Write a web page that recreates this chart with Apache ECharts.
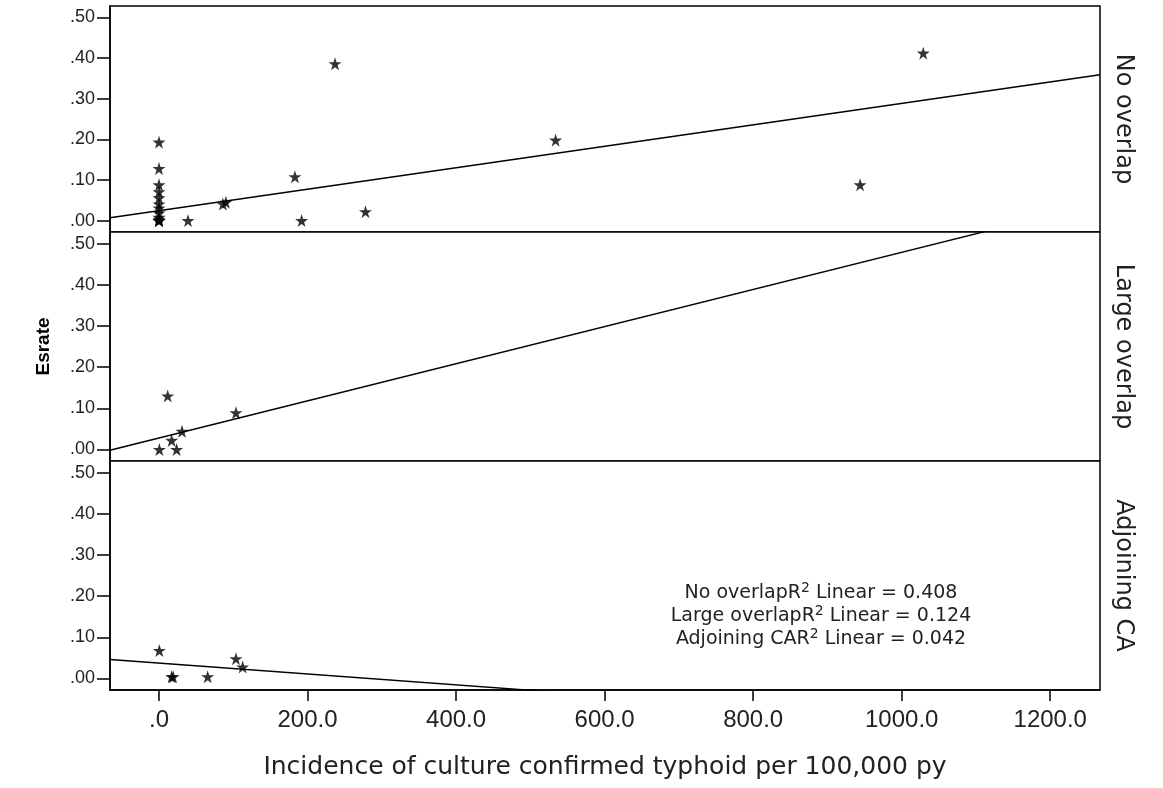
<!DOCTYPE html>
<html>
<head>
<meta charset="utf-8">
<script src="https://cdn.jsdelivr.net/npm/echarts@6/dist/echarts.min.js"></script>
<style>
  html, body { margin: 0; padding: 0; background: #fff; }
  #chart { width: 1163px; height: 788px; }
</style>
</head>
<body>
<div id="chart"></div>
<script>
// Panel names (drawn as strip labels on the right)
const panelNames = ['No overlap', 'Large overlap', 'Adjoining CA'];

// Scatter values per panel: incidence (x) and Esrate (y)
const noOverlapX = [0, 0, 0, 0, 0, 0, 0, 0, 0, 0, 0, 0, 0, 39, 86, 90, 183, 192, 237, 278, 534, 944, 1029];
const noOverlapY = [0.193, 0.128, 0.088, 0.071, 0.056, 0.041, 0.031, 0.019, 0.008, 0.003, 0, 0, 0, 0, 0.041, 0.045, 0.108, 0, 0.386, 0.022, 0.198, 0.088, 0.412];

const largeOverlapX = [0.5, 11.7, 17, 23.7, 31, 103.6];
const largeOverlapY = [0, 0.13, 0.022, 0, 0.044, 0.089];

const adjoiningX = [0.4, 17, 19, 65.5, 103.6, 112.6];
const adjoiningY = [0.068, 0.004, 0.004, 0.004, 0.048, 0.028];

// Linear fit lines (endpoints across the x range)
const noOverlapFit = [[-66, 0.007], [1267, 0.359]];
const largeOverlapFit = [[-66, -0.002], [1267, 0.599]];
const adjoiningFit = [[-66, 0.046], [1267, -0.13]];

// R² annotations
const fitLabels = ['No overlap', 'Large overlap', 'Adjoining CA'];
const fitR2 = ['0.408', '0.124', '0.042'];

// Axis ticks
const xTicks = [0, 200, 400, 600, 800, 1000, 1200];
const yTicks = [0, 0.1, 0.2, 0.3, 0.4, 0.5];
const xRange = [-66, 1267];
const yRange = [-0.028, 0.528];

const xFmt = v => (v === 0 ? '.0' : v.toFixed(1));
const yFmt = v => v.toFixed(2).replace(/^0/, '');

const FONT = 'Liberation Sans, Arial, sans-serif';
const WIDE = 'DejaVu Sans, Verdana, sans-serif';
const STAR = 'path://M50,0 L61.2,34.5 L97.6,34.5 L68.2,55.9 L79.4,90.5 L50,69.1 L20.6,90.5 L31.8,55.9 L2.4,34.5 L38.8,34.5 Z';

const panels = [
  { x: noOverlapX, y: noOverlapY, fit: noOverlapFit, top: 6, height: 226 },
  { x: largeOverlapX, y: largeOverlapY, fit: largeOverlapFit, top: 232, height: 229 },
  { x: adjoiningX, y: adjoiningY, fit: adjoiningFit, top: 461, height: 229 }
];

const grids = [], xAxes = [], yAxes = [], series = [];
panels.forEach((p, i) => {
  const last = i === panels.length - 1;
  grids.push({
    left: 110, right: 63, top: p.top, height: p.height,
    show: true, borderColor: '#000', borderWidth: 1.5, backgroundColor: '#fff'
  });
  xAxes.push({
    type: 'value', gridIndex: i, min: xRange[0], max: xRange[1],
    splitLine: { show: false },
    axisLine: { show: last, onZero: false, lineStyle: { color: '#000', width: 1.5 } },
    axisTick: { show: last, customValues: xTicks, length: 11, lineStyle: { color: '#000', width: 1.5 } },
    axisLabel: { show: last, customValues: xTicks, formatter: xFmt, color: '#222', fontFamily: FONT, fontSize: 24, margin: 18 },
    name: last ? 'Incidence of culture confirmed typhoid per 100,000 py' : '',
    nameLocation: 'middle', nameGap: 65,
    nameTextStyle: { color: '#222', fontFamily: WIDE, fontSize: 25 }
  });
  yAxes.push({
    type: 'value', gridIndex: i, min: yRange[0], max: yRange[1],
    splitLine: { show: false },
    axisLine: { show: true, onZero: false, lineStyle: { color: '#000', width: 1.5 } },
    axisTick: { show: true, customValues: yTicks, length: 13, lineStyle: { color: '#000', width: 1.5 } },
    axisLabel: { customValues: yTicks, formatter: yFmt, color: '#222', fontFamily: FONT, fontSize: 18, margin: 15 },
    name: i === 1 ? 'Esrate' : '',
    nameLocation: 'middle', nameGap: 57, nameRotate: 90,
    nameTextStyle: { color: '#000', fontFamily: FONT, fontSize: 19, fontWeight: 'bold' }
  });
  series.push({
    type: 'line', xAxisIndex: i, yAxisIndex: i,
    data: p.fit, symbol: 'none', clip: true, silent: true,
    lineStyle: { color: '#000', width: 1.4 }
  });
  series.push({
    type: 'scatter', xAxisIndex: i, yAxisIndex: i,
    data: p.x.map((v, k) => [v, p.y[k]]),
    symbol: STAR, symbolSize: 13, clip: false,
    itemStyle: { color: '#000' }
  });
});

// Strip labels to the right of each panel, reading top to bottom
const stripLabels = panels.map((p, i) => ({
  type: 'text',
  x: 1123, y: p.top + p.height / 2,
  rotation: -Math.PI / 2,
  style: {
    text: panelNames[i], fill: '#222', font: '24px ' + WIDE,
    align: 'center', verticalAlign: 'middle'
  }
}));

// R² annotation block inside the bottom panel
const r2Lines = fitLabels.map((name, i) => ({
  type: 'text',
  x: 821, y: 592 + i * 23,
  style: {
    text: '{a|' + name + 'R}{s|2}{a| Linear = ' + fitR2[i] + '}',
    align: 'center', verticalAlign: 'middle',
    rich: {
      a: { fontFamily: WIDE, fontSize: 19, fill: '#222', lineHeight: 22, verticalAlign: 'bottom' },
      s: { fontFamily: WIDE, fontSize: 14, fill: '#222', lineHeight: 22, verticalAlign: 'top', padding: [0, 0, 8, 0] }
    }
  }
}));

const chart = echarts.init(document.getElementById('chart'), null, { renderer: 'canvas' });
chart.setOption({
  animation: false,
  backgroundColor: '#fff',
  grid: grids,
  xAxis: xAxes,
  yAxis: yAxes,
  series: series,
  graphic: stripLabels.concat(r2Lines)
});
</script>
</body>
</html>
